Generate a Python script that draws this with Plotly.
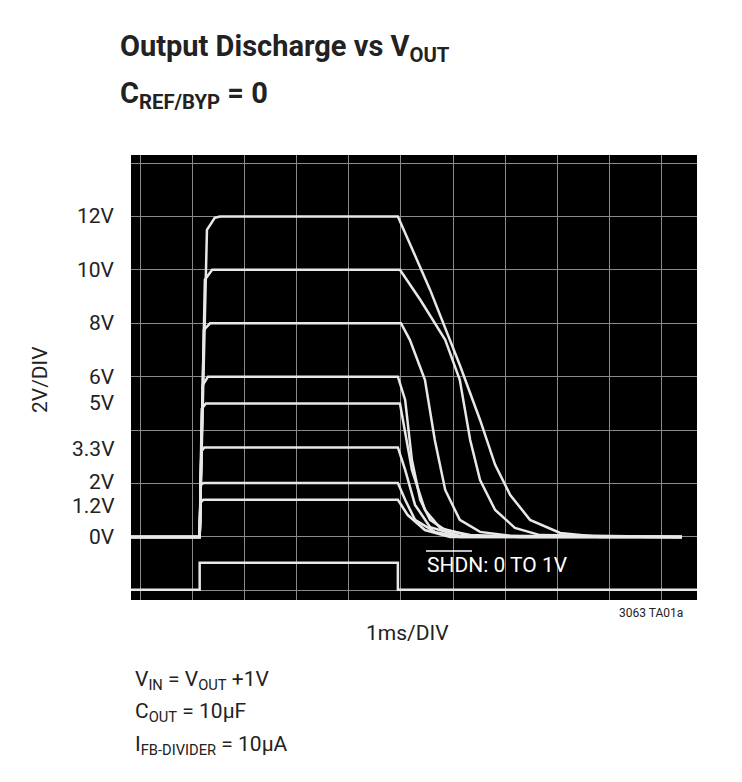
import plotly.graph_objects as go

# time in ms, voltage in V
t12 = [-0.2, 1.13, 1.27, 1.42, 1.52, 4.94, 5.56, 6.13, 6.52, 6.81, 7.10, 7.48, 8.06, 8.83, 10.4]
v12 = [0, 0, 11.5, 11.95, 12.0, 12.0, 9.25, 6.44, 4.38, 2.70, 1.57, 0.64, 0.15, 0, 0]
t10 = [-0.2, 1.13, 1.23, 1.37, 4.98, 5.37, 5.85, 6.13, 6.33, 6.52, 6.81, 7.19, 7.67, 10.4]
v10 = [0, 0, 9.63, 10.0, 10.0, 8.88, 7.38, 5.88, 3.63, 2.13, 1.01, 0.34, 0.07, 0]
t8 = [-0.2, 1.13, 1.21, 1.33, 5.0, 5.17, 5.46, 5.65, 5.85, 6.13, 6.52, 7.10, 10.4]
v8 = [0, 0, 7.75, 8.0, 8.0, 7.38, 5.88, 3.63, 1.76, 0.64, 0.19, 0.04, 0]
t6 = [-0.2, 1.13, 1.19, 1.29, 4.94, 5.08, 5.21, 5.37, 5.56, 5.85, 6.33, 7.29, 10.4]
v6 = [0, 0, 5.69, 6.0, 6.0, 5.13, 2.88, 1.39, 0.64, 0.26, 0.07, 0, 0]
t5 = [-0.2, 1.13, 1.17, 1.25, 4.98, 5.21, 5.46, 5.75, 6.33, 10.4]
v5 = [0, 0, 4.8, 5.0, 5.0, 2.51, 1.01, 0.34, 0.04, 0]
t33 = [-0.2, 1.13, 1.16, 1.22, 4.94, 5.08, 5.27, 5.56, 6.13, 10.4]
v33 = [0, 0, 3.2, 3.35, 3.35, 2.51, 1.2, 0.37, 0.04, 0]
t2 = [-0.2, 1.13, 1.15, 1.2, 4.94, 5.08, 5.27, 5.65, 6.13, 10.4]
v2 = [0, 0, 1.95, 2.02, 2.02, 1.39, 0.64, 0.19, 0, 0]
t12b = [-0.2, 1.13, 1.15, 1.2, 4.94, 5.13, 5.46, 5.94, 10.4]
v12b = [0, 0, 1.3, 1.39, 1.39, 0.82, 0.26, 0, 0]
tsh = [-0.2, 1.13, 1.13, 4.94, 4.94, 10.7]
vsh = [-1.98, -1.98, -0.97, -0.97, -1.98, -1.98]

ylabels = ["12V", "10V", "8V", "6V", "5V", "3.3V", "2V", "1.2V", "0V"]
ylevels = [12, 10, 8, 6, 5, 3.3, 2.05, 1.15, 0]

fig = go.Figure()
for t, v in [(t12, v12), (t10, v10), (t8, v8), (t6, v6), (t5, v5), (t33, v33), (t2, v2), (t12b, v12b), (tsh, vsh)]:
    fig.add_trace(go.Scatter(x=t, y=v, mode="lines", line=dict(color="#e8e8e8", width=2.5), showlegend=False, hoverinfo="skip"))

F = "Roboto, Liberation Sans, sans-serif"
anns = []
for lab, lev in zip(ylabels, ylevels):
    anns.append(dict(x=-0.025, xref="paper", y=lev, yref="y", text=lab, showarrow=False, xanchor="right",
                     font=dict(family=F, size=21, color="#222")))

def add(x, y, text, size, anchor="left", angle=0, color="#222"):
    px, py = (x - 131) / 566, 1 - (y - 155) / 445
    anns.append(dict(x=px, y=py, xref="paper", yref="paper", xanchor=anchor, yanchor="middle",
                     text=text, showarrow=False, textangle=angle,
                     font=dict(family=F, size=size, color=color)))

add(118, 48, "<b>Output Discharge vs V<sub>OUT</sub></b>", 29)
add(118, 95, "<b>C<sub>REF/BYP</sub> = 0</b>", 29)
add(40, 380, "2V/DIV", 21, anchor="center", angle=-90)
add(407, 633, "1ms/DIV", 21, anchor="center")
add(685, 613, "3063 TA01a", 12, anchor="right")
add(425, 565, "SHDN: 0 TO 1V", 21, color="white")
add(133, 680, "V<sub>IN</sub> = V<sub>OUT</sub> +1V", 21)
add(133, 712, "C<sub>OUT</sub> = 10µF", 21)
add(133, 745, "I<sub>FB-DIVIDER</sub> = 10µA", 21)

fig.update_layout(
    width=742, height=782, paper_bgcolor="white", plot_bgcolor="black",
    margin=dict(l=123, r=53, t=147, b=190),
    annotations=anns,
    xaxis=dict(range=[-0.19, 10.69], tick0=0, dtick=1, showgrid=True, gridcolor="#8a8a8a", gridwidth=1.2,
               showticklabels=False, zeroline=False, fixedrange=True),
    yaxis=dict(range=[-2.36, 14.3], tick0=-2, dtick=2, showgrid=True, gridcolor="#8a8a8a", gridwidth=1.2,
               showticklabels=False, zeroline=False, fixedrange=True),
)
fig.add_shape(type="line", xref="paper", yref="paper",
              x0=(426 - 131) / 566, x1=(472 - 131) / 566, y0=1 - (551 - 155) / 445, y1=1 - (551 - 155) / 445,
              line=dict(color="white", width=1.5))
fig.write_html("out.html")
